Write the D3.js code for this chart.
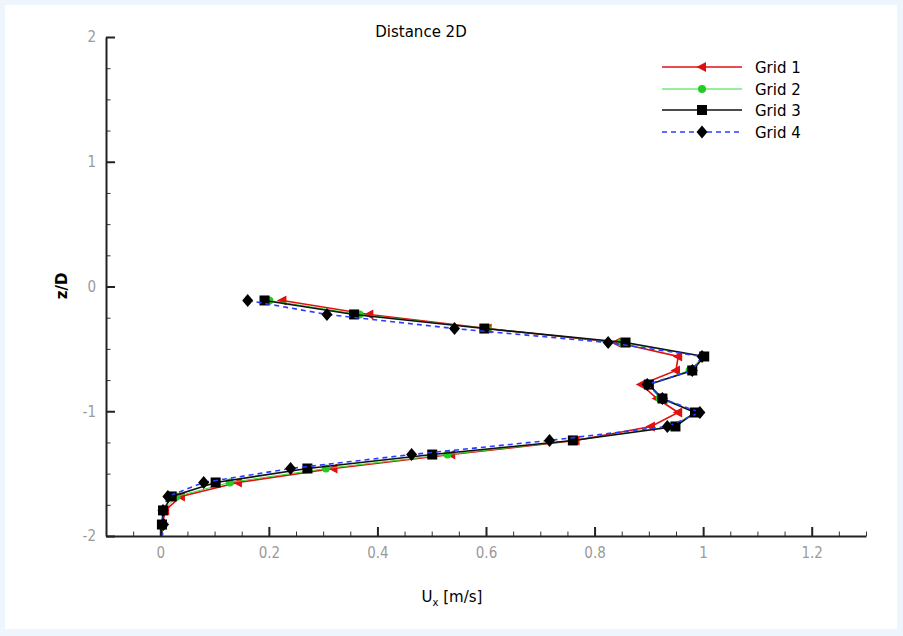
<!DOCTYPE html>
<html>
<head>
<meta charset="utf-8">
<script src="https://cdn.jsdelivr.net/npm/d3@7/dist/d3.min.js"></script>
<style>
  html, body { margin: 0; padding: 0; background: #eef5fc; }
  svg { display: block; }
</style>
</head>
<body>
<svg id="chart" width="903" height="636"></svg>
<script>
// ---------------- data ----------------
const chartTitle = "Distance 2D";
const seriesNames = ["Grid 1", "Grid 2", "Grid 3", "Grid 4"];
const zLevels = [-0.112, -0.224, -0.337, -0.449, -0.561, -0.673, -0.786, -0.898, -1.010,
                 -1.122, -1.234, -1.347, -1.459, -1.571, -1.683, -1.795, -1.908, -2.0];
const grid1U = [0.225, 0.385, 0.603, 0.840, 0.954, 0.950, 0.886, 0.915, 0.954,
                0.904, 0.765, 0.536, 0.319, 0.143, 0.038, 0.009, 0.004, 0.003];
const grid2U = [0.201, 0.367, 0.602, 0.849, 1.000, 0.975, 0.900, 0.920, 0.987,
                0.940, 0.762, 0.529, 0.305, 0.128, 0.030, 0.006, 0.004, 0.003];
const grid3U = [0.192, 0.357, 0.597, 0.857, 1.002, 0.980, 0.900, 0.925, 0.985,
                0.949, 0.760, 0.501, 0.271, 0.102, 0.021, 0.005, 0.003, 0.002];
const grid4U = [0.161, 0.307, 0.542, 0.825, 0.998, 0.980, 0.897, 0.925, 0.994,
                0.934, 0.717, 0.463, 0.240, 0.080, 0.014, 0.005, 0.006, 0.004];
const xTicks = [0, 0.2, 0.4, 0.6, 0.8, 1, 1.2];
const xTickLabels = ["0", "0.2", "0.4", "0.6", "0.8", "1", "1.2"];
const yTicks = [-2, -1, 0, 1, 2];
const yTickLabels = ["-2", "-1", "0", "1", "2"];
const xDomain = [-0.1, 1.3];
const yDomain = [-2, 2];

// ---------------- layout ----------------
const svg = d3.select("#chart");
svg.append("rect").attr("x", 5).attr("y", 5).attr("width", 892).attr("height", 624).attr("fill", "#ffffff");

const plotL = 106, plotR = 866, plotT = 37, plotB = 536;
const x = d3.scaleLinear().domain(xDomain).range([plotL, plotR]);
const y = d3.scaleLinear().domain(yDomain).range([plotB, plotT]);

const labelFont = "'Liberation Sans Narrow', 'DejaVu Sans Condensed', 'Liberation Sans', sans-serif";
const textFont = "'DejaVu Sans', 'Liberation Sans', Arial, sans-serif";

// minor ticks
const xMinor = d3.range(-0.05, 1.3001, 0.05).filter(v => !xTicks.some(t => Math.abs(t - v) < 1e-6));
const yMinor = d3.range(-1.75, 2.0, 0.25).filter(v => !yTicks.some(t => Math.abs(t - v) < 1e-6));

svg.append("g").attr("transform", `translate(0,${plotB})`)
  .call(d3.axisBottom(x).tickValues(xMinor).tickSizeInner(-4.5).tickSizeOuter(0).tickFormat(""))
  .call(g => g.select(".domain").remove())
  .call(g => g.selectAll("line").attr("stroke", "#333").attr("stroke-width", 1));
svg.append("g").attr("transform", `translate(${plotL},0)`)
  .call(d3.axisLeft(y).tickValues(yMinor).tickSizeInner(-4.5).tickSizeOuter(0).tickFormat(""))
  .call(g => g.select(".domain").remove())
  .call(g => g.selectAll("line").attr("stroke", "#333").attr("stroke-width", 1));

const xAxis = svg.append("g").attr("transform", `translate(0,${plotB})`)
  .call(d3.axisBottom(x).tickValues(xTicks).tickSizeInner(-9).tickSizeOuter(0).tickPadding(11)
        .tickFormat((d, i) => xTickLabels[i]));
const yAxis = svg.append("g").attr("transform", `translate(${plotL},0)`)
  .call(d3.axisLeft(y).tickValues(yTicks).tickSizeInner(-9).tickSizeOuter(0).tickPadding(10)
        .tickFormat((d, i) => yTickLabels[i]));
[xAxis, yAxis].forEach(g => {
  g.select(".domain").attr("stroke", "#222").attr("stroke-width", 2);
  g.selectAll(".tick line").attr("stroke", "#222").attr("stroke-width", 2);
  g.selectAll("text").attr("fill", "#9a9a9a").style("font-family", labelFont).style("font-size", "15px");
});

// ---------------- series ----------------
const triPath = "M-5.5,0 L4,-5 L4,5 Z";
const diamondPath = "M0,-6.5 L5.5,0 L0,6.5 L-5.5,0 Z";
const series = [
  { name: seriesNames[0], u: grid1U, color: "#e01010", width: 1.6, dash: null, marker: "tri", mcolor: "#e01010" },
  { name: seriesNames[1], u: grid2U, color: "#33dd33", width: 1, dash: null, marker: "circle", mcolor: "#22cc22" },
  { name: seriesNames[2], u: grid3U, color: "#111111", width: 1.6, dash: null, marker: "square", mcolor: "#000000" },
  { name: seriesNames[3], u: grid4U, color: "#2a3cff", width: 1.6, dash: "5,4", marker: "diamond", mcolor: "#000000" }
];

function drawMarker(g, type, color) {
  if (type === "tri") g.append("path").attr("d", triPath).attr("fill", color);
  else if (type === "circle") g.append("circle").attr("r", 4).attr("fill", color);
  else if (type === "square") g.append("rect").attr("x", -5).attr("y", -5).attr("width", 10).attr("height", 10).attr("fill", color);
  else g.append("path").attr("d", diamondPath).attr("fill", color);
}

const line = d3.line().x(d => x(d.u)).y(d => y(d.z));
series.forEach(s => {
  const pts = zLevels.map((z, i) => ({ z, u: s.u[i] }));
  svg.append("path").datum(pts).attr("d", line).attr("fill", "none")
    .attr("stroke", s.color).attr("stroke-width", s.width)
    .attr("stroke-dasharray", s.dash);
  pts.filter(p => p.z > -1.95).forEach(p => {
    const g = svg.append("g").attr("transform", `translate(${x(p.u)},${y(p.z)})`);
    drawMarker(g, s.marker, s.mcolor);
  });
});

// ---------------- legend ----------------
const legendY = [67, 89, 110, 132];
series.forEach((s, i) => {
  svg.append("line").attr("x1", 662).attr("x2", 742).attr("y1", legendY[i]).attr("y2", legendY[i])
    .attr("stroke", s.color).attr("stroke-width", s.width).attr("stroke-dasharray", s.dash);
  const g = svg.append("g").attr("transform", `translate(702,${legendY[i]})`);
  drawMarker(g, s.marker, s.mcolor);
  svg.append("text").attr("x", 755).attr("y", legendY[i] + 5.5).text(s.name)
    .style("font-family", textFont).style("font-size", "15px").attr("fill", "#000");
});

// ---------------- titles ----------------
svg.append("text").attr("x", 421).attr("y", 37).attr("text-anchor", "middle").text(chartTitle)
  .style("font-family", textFont).style("font-size", "15px").attr("fill", "#000");

svg.append("text").attr("transform", "translate(67,286) rotate(-90)").attr("text-anchor", "middle")
  .text("z/D").style("font-family", textFont).style("font-size", "15px").style("font-weight", "bold").attr("fill", "#000");

const xt = svg.append("text").attr("x", 452).attr("y", 602).attr("text-anchor", "middle")
  .style("font-family", textFont).style("font-size", "15px").attr("fill", "#000");
xt.append("tspan").text("U");
xt.append("tspan").attr("dy", 4).style("font-size", "10px").text("x");
xt.append("tspan").attr("dy", -4).text(" [m/s]");
</script>
</body>
</html>
